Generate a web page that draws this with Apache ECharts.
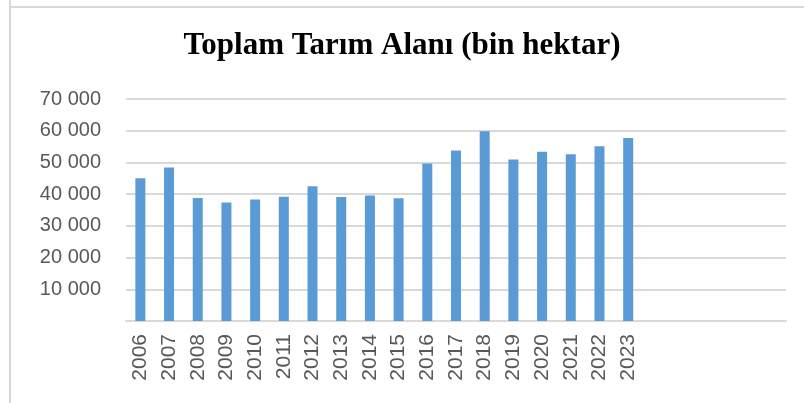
<!DOCTYPE html>
<html lang="tr">

<head>
    <meta charset="UTF-8">
    <title>Toplam Tarım Alanı</title>
    <script src="https://cdn.jsdelivr.net/npm/echarts@6/dist/echarts.min.js"></script>
    <style>
        html, body { margin: 0; padding: 0; background: #fff; }
        #main { width: 804px; height: 403px; }
    </style>
</head>

<body>
    <div id="main"></div>

    <script type="text/javascript">
        // yıllar (sağdaki boş kategoriler de eksende yer alıyor)
        var years = ['2006', '2007', '2008', '2009', '2010', '2011', '2012', '2013', '2014',
            '2015', '2016', '2017', '2018', '2019', '2020', '2021', '2022', '2023',
            '', '', '', '', ''];
        // bin hektar
        var values = [45000, 48400, 38800, 37400, 38300, 39200, 42500, 39100, 39600,
            38700, 49700, 53800, 59800, 50900, 53400, 52600, 55100, 57700];

        var yTicks = { min: 0, max: 70000, interval: 10000 };

        function fmt(v) {
            if (v === 0) return '';
            return String(v).replace(/\B(?=(\d{3})+(?!\d))/g, ' ');
        }

        var myChart = echarts.init(document.getElementById('main'));
        var option = {
            animation: false,
            title: {
                text: 'Toplam Tarım Alanı (bin hektar)',
                left: 'center',
                top: 25,
                textStyle: {
                    fontFamily: 'Liberation Serif',
                    fontWeight: 'bold',
                    fontSize: 31,
                    color: '#000'
                }
            },
            graphic: [
                { type: 'line', shape: { x1: 10, y1: 0, x2: 10, y2: 403 }, style: { stroke: '#d9d9d9', lineWidth: 2 } },
                { type: 'line', shape: { x1: 9, y1: 7, x2: 804, y2: 7 }, style: { stroke: '#d9d9d9', lineWidth: 2 } }
            ],
            grid: {
                left: 126,
                right: 18,
                top: 99,
                bottom: 82
            },
            xAxis: {
                type: 'category',
                data: years,
                axisLine: { lineStyle: { color: '#d9d9d9', width: 2 } },
                axisTick: { show: false },
                axisLabel: {
                    rotate: 90,
                    interval: 0,
                    margin: 13,
                    color: '#595959',
                    fontFamily: 'Liberation Sans',
                    fontSize: 21
                }
            },
            yAxis: {
                type: 'value',
                min: yTicks.min,
                max: yTicks.max,
                interval: yTicks.interval,
                axisLine: { show: false },
                axisTick: { show: false },
                splitLine: { lineStyle: { color: '#d9d9d9', width: 2 } },
                axisLabel: {
                    margin: 25,
                    color: '#595959',
                    fontFamily: 'Liberation Sans',
                    fontSize: 20,
                    formatter: fmt
                }
            },
            series: [{
                type: 'bar',
                data: values,
                barWidth: 10,
                itemStyle: { color: '#5b9bd5' }
            }]
        };
        myChart.setOption(option);
    </script>
</body>

</html>
